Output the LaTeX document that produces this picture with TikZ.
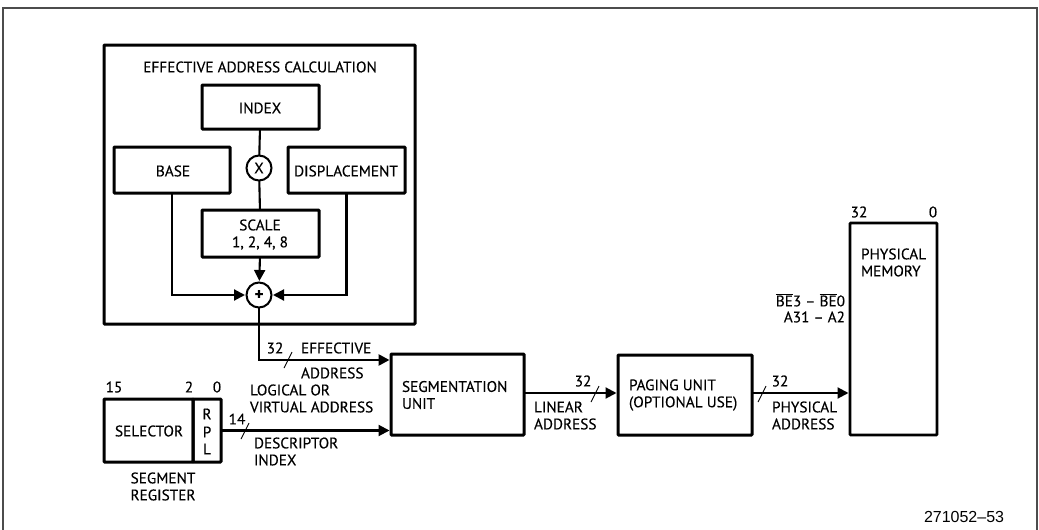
\documentclass[tikz,border=0pt]{standalone}
\usepackage{fontspec}
\setmainfont{PT Sans}[FakeBold=0.25]
\newfontfamily\footfont{Liberation Sans}
\usetikzlibrary{arrows.meta,calc}
\tikzset{
  x=1pt,y=-1pt,
  every node/.style={inner sep=0pt,outer sep=0pt,font=\fontsize{15.3}{17}\selectfont,text=black},
  blockbox/.style={draw=black,line width=3pt,rounded corners=0.8pt},
  thinbox/.style={draw=black,line width=2.6pt,rounded corners=0.8pt},
  opcircle/.style={draw=black,line width=2pt,circle,minimum size=25pt,fill=white},
  wire/.style={draw=black,line width=2.1pt},
  arrowwire/.style={wire,-{Triangle[length=11pt,width=11pt]},shorten >=1.5pt},
  buswire/.style={arrowwire,line width=2.6pt},
  slashmark/.style={draw=black,line width=0.9pt},
  lefttext/.style={anchor=west,align=left},
}
\begin{document}
\begin{tikzpicture}
\useasboundingbox (0,0) rectangle (1039,530);
% page frame, running off the bottom of the page
\draw[line width=1.8pt,draw=black!70] (3,530) -- (3,8) -- (1037,8) -- (1037,530);

% effective address block
\node[blockbox,minimum width=311pt,minimum height=279pt] (ea) at (259.5,184.5) {};
\node (eatitle) at (260,67) {EFFECTIVE ADDRESS CALCULATION};
\node[blockbox,minimum width=117pt,minimum height=44pt] (index) at (260.5,107) {};
\node (indext) at (260,108) {INDEX};
\node[blockbox,minimum width=116pt,minimum height=46pt] (base) at (172,170) {};
\node (baset) at (173,171) {BASE};
\node[blockbox,minimum width=117pt,minimum height=46pt] (disp) at (346.5,170) {};
\node (dispt) at (346,171) {DISPLACEMENT};
\node[blockbox,minimum width=117pt,minimum height=47pt,align=center] (scale) at (260.5,233.5) {};
\node (scalet) at (260,225) {SCALE};
\node (scalev) at (260,243) {1, 2, 4, 8};
\node[opcircle] (times) at (259,168) {X};
\node[opcircle,font=\fontsize{17}{17}\bfseries\selectfont] (plus) at (259,295) {+};

% main path blocks
\node[blockbox,minimum width=133pt,minimum height=81pt] (seg) at (457.5,394.5) {};
\node[lefttext] (segt) at (402,395) {SEGMENTATION\\UNIT};
\node[blockbox,minimum width=134pt,minimum height=80pt] (pag) at (685,395) {};
\node[lefttext] (pagt) at (629,395) {PAGING UNIT\\(OPTIONAL USE)};
\node[thinbox,minimum width=87pt,minimum height=212pt] (mem) at (893.5,329) {};
\node[lefttext] (memt) at (861,262.5) {PHYSICAL\\MEMORY};

% segment register
\node[blockbox,minimum width=89pt,minimum height=63pt] (sel) at (148.5,430.5) {};
\node[blockbox,minimum width=28pt,minimum height=63pt,line width=3pt] (rpl) at (207,430.5) {};
\node (selt) at (149,431) {SELECTOR};
\node (rplr) at (207,414) {R};
\node (rplp) at (207,432) {P};
\node (rpll) at (207,449) {L};
\node (n15) at (114,387) {15};
\node (n2) at (189,387) {2};
\node (n0) at (217,387) {0};
\node[align=center] (segreg) at (163,486.5) {SEGMENT\\REGISTER};

% connectors
\coordinate (lineary) at (0,393);
\coordinate (effy) at (0,360);
\draw[wire] (index) -- (times);
\draw[wire] (times) -- (scale);
\draw[arrowwire] (scale) -- (plus);
\draw[arrowwire] (base.south) |- (plus.west);
\draw[arrowwire] (disp.south) |- (plus.east);
\draw[buswire] (plus.south) |- (seg.west |- effy);
\draw[arrowwire] (rpl.east) -- (rpl.east -| seg.west);
\draw[arrowwire] (seg.east |- lineary) -- (pag.west |- lineary);
\draw[arrowwire] (pag.east |- lineary) -- (mem.west |- lineary);

% bus-width slashes
\coordinate (s1) at (288,360);
\coordinate (s2) at (245,431);
\coordinate (s3) at (595,394);
\coordinate (s4) at (762,394);
\foreach \s in {s1,s2,s3,s4}
  \draw[slashmark] ($(\s)+(-4,8)$) -- ($(\s)+(4,-8)$);

% labels
\node (w1) at (275,348) {32};
\node[lefttext] (efft) at (301,348) {EFFECTIVE};
\node[lefttext] (effa) at (301,373) {ADDRESS};
\node[lefttext] (logt) at (250,398.5) {LOGICAL OR\\VIRTUAL ADDRESS};
\node (w2) at (237,419) {14};
\node[lefttext] (desct) at (254,451.5) {DESCRIPTOR\\INDEX};
\node (w3) at (583,381) {32};
\node[lefttext] (lint) at (534,415.5) {LINEAR\\ADDRESS};
\node (w4) at (780,381) {32};
\node[lefttext] (phyt) at (772,415.5) {PHYSICAL\\ADDRESS};
\node (m32) at (859,212) {32};
\node (m0) at (933,212) {0};
\node[anchor=east] (bet) at (845,300) {$\overline{\hbox{BE}}$3 – $\overline{\hbox{BE}}$0};
\node[anchor=east] (at) at (845,317) {A31 – A2};
\node[anchor=west,font=\footfont\fontsize{16}{16}\selectfont] (fig) at (924,517) {271052–53};
\end{tikzpicture}
\end{document}
